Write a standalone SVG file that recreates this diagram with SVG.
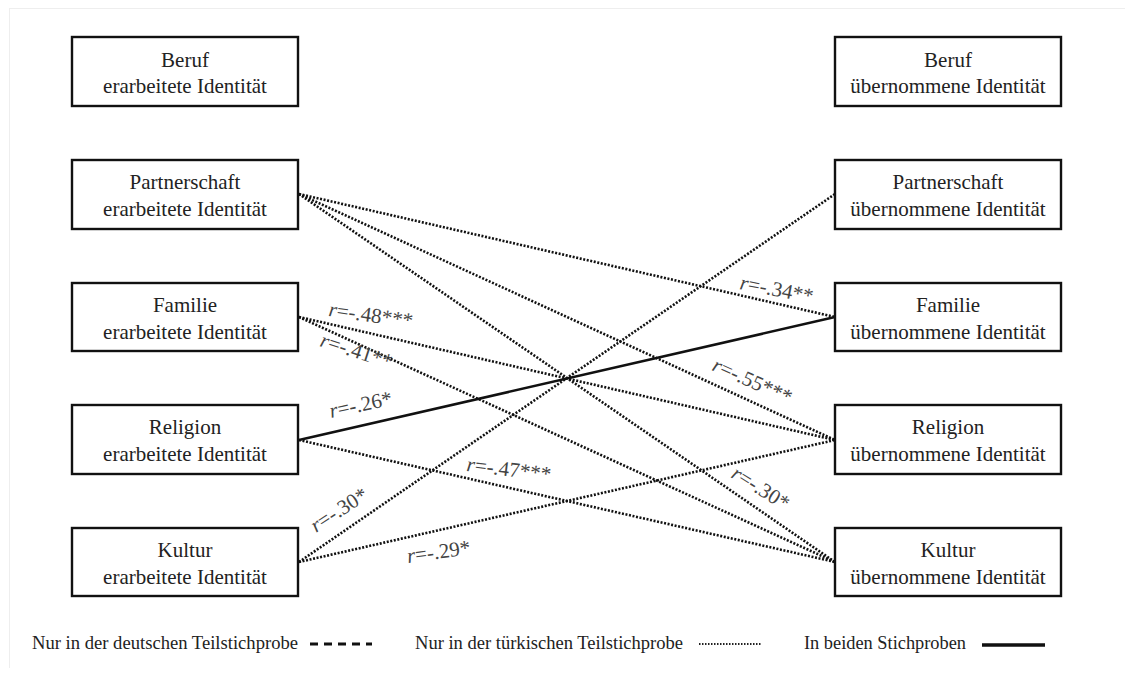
<svg xmlns="http://www.w3.org/2000/svg" width="1125" height="684" viewBox="0 0 1125 684">
<style>
.box{fill:#fff;stroke:#111;stroke-width:2.4}
.t{font-family:"Liberation Serif","Times New Roman",serif;font-size:21px;fill:#222;text-anchor:middle}
.dot{fill:none;stroke:#111;stroke-width:2.6;stroke-dasharray:2 1.6}
.solid{fill:none;stroke:#111;stroke-width:2.6}
.lab{font-family:"Liberation Serif","Times New Roman",serif;font-size:21px;fill:#444}
.lab tspan.r{font-style:italic}
.leg{font-family:"Liberation Serif","Times New Roman",serif;font-size:19px;fill:#222}
</style>
<rect width="1125" height="684" fill="#fff"/>
<line x1="9" y1="8.5" x2="1125" y2="8.5" stroke="#eee" stroke-width="1"/>
<line x1="9.5" y1="8" x2="9.5" y2="668" stroke="#eee" stroke-width="1"/>

<g id="connectors">
<line class="dot" x1="299" y1="194" x2="835" y2="317"/>
<line class="dot" x1="299" y1="194" x2="835" y2="440"/>
<line class="dot" x1="299" y1="194" x2="835" y2="562"/>
<line class="dot" x1="299" y1="317" x2="835" y2="440"/>
<line class="dot" x1="299" y1="317" x2="835" y2="562"/>
<line class="dot" x1="299" y1="440" x2="835" y2="562"/>
<line class="dot" x1="299" y1="562" x2="835" y2="194"/>
<line class="dot" x1="299" y1="562" x2="835" y2="440"/>
<line class="solid" x1="299" y1="440" x2="835" y2="317"/>
</g>

<g id="labels">
<text class="lab" transform="translate(739,289) rotate(11)"><tspan class="r">r</tspan>=-.34**</text>
<text class="lab" transform="translate(711,370) rotate(24)"><tspan class="r">r</tspan>=-.55***</text>
<text class="lab" transform="translate(730,477) rotate(32)"><tspan class="r">r</tspan>=-.30*</text>
<text class="lab" transform="translate(328,316) rotate(8)"><tspan class="r">r</tspan>=-.48***</text>
<text class="lab" transform="translate(319,346) rotate(18)"><tspan class="r">r</tspan>=-.41**</text>
<text class="lab" transform="translate(331,418) rotate(-12)"><tspan class="r">r</tspan>=-.26*</text>
<text class="lab" transform="translate(466,471) rotate(7)"><tspan class="r">r</tspan>=-.47***</text>
<text class="lab" transform="translate(316,533) rotate(-33)"><tspan class="r">r</tspan>=-.30*</text>
<text class="lab" transform="translate(408,563) rotate(-8)"><tspan class="r">r</tspan>=-.29*</text>
</g>

<g id="L_Beruf"><rect class="box" x="72" y="37" width="226" height="69"/><text class="t" x="185" y="67">Beruf</text><text class="t" x="185" y="93">erarbeitete Identität</text></g>
<g id="L_Partnerschaft"><rect class="box" x="72" y="160" width="226" height="69"/><text class="t" x="185" y="189">Partnerschaft</text><text class="t" x="185" y="216">erarbeitete Identität</text></g>
<g id="L_Familie"><rect class="box" x="72" y="283" width="226" height="68"/><text class="t" x="185" y="312">Familie</text><text class="t" x="185" y="339">erarbeitete Identität</text></g>
<g id="L_Religion"><rect class="box" x="72" y="405" width="226" height="69"/><text class="t" x="185" y="434">Religion</text><text class="t" x="185" y="461">erarbeitete Identität</text></g>
<g id="L_Kultur"><rect class="box" x="72" y="528" width="226" height="68"/><text class="t" x="185" y="557">Kultur</text><text class="t" x="185" y="584">erarbeitete Identität</text></g>

<g id="R_Beruf"><rect class="box" x="835" y="37" width="226" height="69"/><text class="t" x="948" y="67">Beruf</text><text class="t" x="948" y="93">übernommene Identität</text></g>
<g id="R_Partnerschaft"><rect class="box" x="835" y="160" width="226" height="69"/><text class="t" x="948" y="189">Partnerschaft</text><text class="t" x="948" y="216">übernommene Identität</text></g>
<g id="R_Familie"><rect class="box" x="835" y="283" width="226" height="68"/><text class="t" x="948" y="312">Familie</text><text class="t" x="948" y="339">übernommene Identität</text></g>
<g id="R_Religion"><rect class="box" x="835" y="405" width="226" height="69"/><text class="t" x="948" y="434">Religion</text><text class="t" x="948" y="461">übernommene Identität</text></g>
<g id="R_Kultur"><rect class="box" x="835" y="528" width="226" height="68"/><text class="t" x="948" y="557">Kultur</text><text class="t" x="948" y="584">übernommene Identität</text></g>

<g id="legend">
<text class="leg" x="32" y="649" textLength="266" lengthAdjust="spacingAndGlyphs">Nur in der deutschen  Teilstichprobe</text>
<line x1="310" y1="644" x2="372" y2="644" stroke="#111" stroke-width="3" stroke-dasharray="8 6"/>
<text class="leg" x="415" y="649" textLength="268" lengthAdjust="spacingAndGlyphs">Nur in der türkischen Teilstichprobe</text>
<line x1="699" y1="644" x2="761" y2="644" stroke="#222" stroke-width="2" stroke-dasharray="1.5 1.5"/>
<text class="leg" x="804" y="649" textLength="162" lengthAdjust="spacingAndGlyphs">In beiden Stichproben</text>
<line x1="982" y1="645" x2="1045" y2="645" stroke="#111" stroke-width="3.5"/>
</g>
</svg>
